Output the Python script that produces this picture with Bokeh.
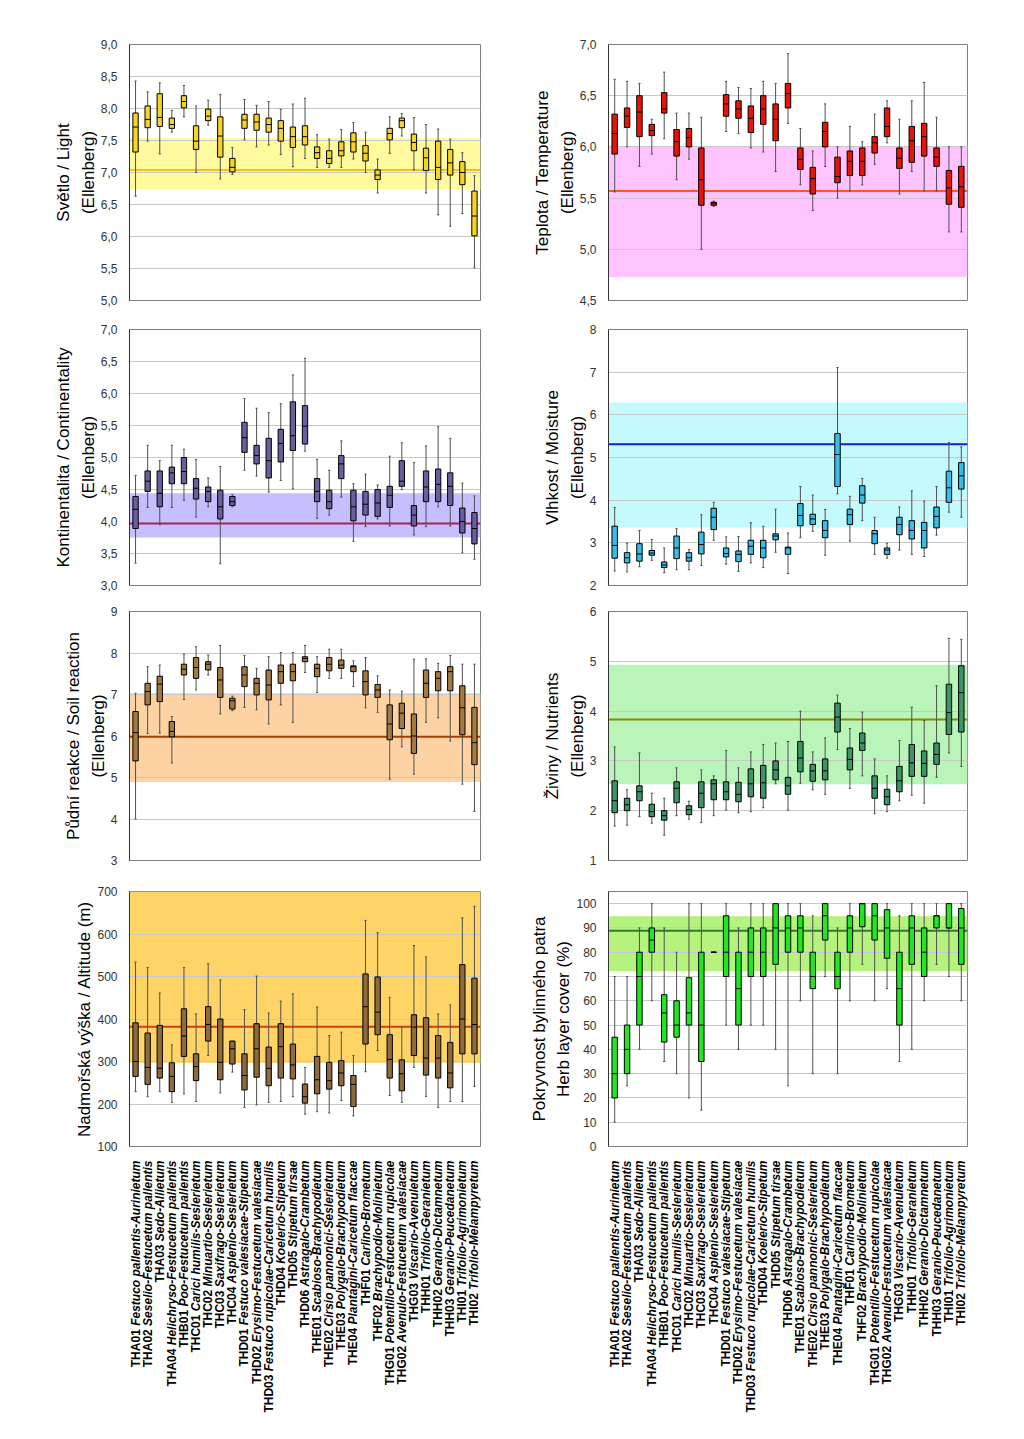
import numpy as np
from bokeh.plotting import figure
from bokeh.models import Range1d, FixedTicker, CustomJSTickFormatter, BoxAnnotation, Span
from bokeh.core.properties import value
from bokeh.layouts import gridplot
from bokeh.embed import file_html
from bokeh.resources import INLINE

codes = ["THA01", "THA02", "THA03", "THA04", "THB01", "THC01", "THC02", "THC03", "THC04",
         "THD01", "THD02", "THD03", "THD04", "THD05", "THD06", "THE01", "THE02", "THE03",
         "THE04", "THF01", "THF02", "THG01", "THG02", "THG03", "THH01", "THH02", "THH03",
         "THI01", "THI02"]
names = [
    "Festuco pallentis-Aurinietum",
    "Seselio-Festucetum pallentis",
    "Sedo-Allietum",
    "Helichryso-Festucetum pallentis",
    "Poo-Festucetum pallentis",
    "Carici humilis-Seslerietum",
    "Minuartio-Seslerietum",
    "Saxifrago-Seslerietum",
    "Asplenio-Seslerietum",
    "Festuco valesiacae-Stipetum",
    "Erysimo-Festucetum valesiacae",
    "Festuco rupicolae-Caricetum humilis",
    "Koelerio-Stipetum",
    "Stipetum tirsae",
    "Astragalo-Crambetum",
    "Scabioso-Brachypodietum",
    "Cirsio pannonici-Seslerietum",
    "Polygalo-Brachypodietum",
    "Plantagini-Caricetum flaccae",
    "Carlino-Brometum",
    "Brachypodio-Molinietum",
    "Potentillo-Festucetum rupicolae",
    "Avenulo-Festucetum valesiacae",
    "Viscario-Avenuletum",
    "Trifolio-Geranietum",
    "Geranio-Dictamnetum",
    "Geranio-Peucedanetum",
    "Trifolio-Agrimonietum",
    "Trifolio-Melampyretum",
]

# Light
light_hi = [8.43,8.26,8.40,7.97,8.36,8.04,8.13,8.22,7.39,8.14,8.05,8.11,7.99,8.07,8.16,7.59,7.52,7.67,7.78,7.63,7.21,7.87,7.92,7.86,7.75,7.68,7.52,7.31,6.95]
light_q3 = [7.93,8.04,8.23,7.85,8.20,7.73,7.99,7.87,7.22,7.91,7.91,7.85,7.81,7.71,7.73,7.40,7.34,7.48,7.62,7.42,7.04,7.69,7.85,7.60,7.38,7.49,7.36,7.17,6.71]
light_med = [7.71,7.83,7.86,7.75,8.11,7.49,7.88,7.57,7.08,7.82,7.79,7.75,7.69,7.56,7.56,7.31,7.22,7.34,7.48,7.30,6.96,7.61,7.81,7.47,7.23,7.08,7.15,7.00,6.32]
light_q1 = [7.32,7.70,7.72,7.69,8.01,7.36,7.81,7.24,7.01,7.69,7.66,7.63,7.49,7.39,7.43,7.22,7.14,7.26,7.32,7.18,6.89,7.51,7.70,7.34,7.03,6.89,6.96,6.81,6.01]
light_lo = [6.63,7.49,7.29,7.63,7.87,7.00,7.74,6.90,6.97,7.51,7.40,7.43,7.28,7.09,7.22,7.08,7.08,7.08,7.21,7.00,6.68,7.30,7.57,7.04,6.68,6.34,6.16,6.36,5.51]

# Temperature
temp_hi = [6.66,6.64,6.62,6.27,6.73,6.33,6.33,6.29,5.47,6.64,6.58,6.57,6.64,6.62,6.91,6.18,5.96,6.42,6.00,6.20,6.05,6.32,6.45,6.27,6.45,6.63,6.29,6.00,6.00]
temp_q3 = [6.32,6.38,6.50,6.22,6.53,6.17,6.18,5.99,5.46,6.51,6.45,6.40,6.50,6.42,6.62,5.99,5.80,6.24,5.90,5.96,5.99,6.10,6.38,5.99,6.20,6.23,5.99,5.77,5.81]
temp_med = [6.13,6.30,6.34,6.16,6.37,6.05,6.09,5.68,5.45,6.42,6.37,6.28,6.37,6.27,6.52,5.88,5.69,6.15,5.71,5.86,5.86,6.04,6.20,5.89,6.06,6.10,5.90,5.60,5.61]
temp_q1 = [5.93,6.19,6.10,6.11,6.33,5.91,6.00,5.43,5.43,6.30,6.28,6.14,6.22,6.06,6.38,5.78,5.54,6.00,5.65,5.72,5.72,5.94,6.10,5.79,5.85,5.91,5.81,5.44,5.41]
temp_lo = [5.56,6.00,5.81,5.93,6.08,5.68,5.88,5.00,5.42,6.15,6.13,5.99,5.95,5.76,6.23,5.63,5.38,5.81,5.50,5.57,5.63,5.83,6.04,5.54,5.76,5.57,5.57,5.17,5.17]

# Continentality
cont_hi = [4.72,5.19,4.95,5.19,5.13,4.97,4.68,4.86,4.42,5.92,5.77,5.70,5.84,6.29,6.55,4.97,4.80,5.26,4.59,4.74,4.57,5.02,5.23,4.92,5.18,5.48,5.30,4.60,4.40]
cont_q3 = [4.39,4.79,4.79,4.85,5.00,4.67,4.54,4.49,4.39,5.55,5.19,5.30,5.44,5.87,5.81,4.67,4.49,5.03,4.49,4.47,4.50,4.55,4.95,4.25,4.79,4.82,4.76,4.21,4.14]
cont_med = [4.19,4.63,4.44,4.76,4.78,4.52,4.47,4.23,4.31,5.31,5.03,4.95,5.22,5.34,5.49,4.47,4.31,4.90,4.23,4.27,4.29,4.41,4.63,4.10,4.54,4.58,4.55,4.00,3.89]
cont_q1 = [3.89,4.47,4.23,4.59,4.59,4.35,4.31,4.04,4.25,5.08,4.90,4.68,4.93,5.11,5.21,4.31,4.20,4.67,4.01,4.10,4.08,4.22,4.55,3.93,4.31,4.31,4.25,3.82,3.65]
cont_lo = [3.35,4.22,3.95,4.22,4.33,4.07,4.23,3.34,4.23,4.80,4.71,4.46,4.64,4.51,5.10,4.05,4.10,4.38,3.69,3.92,4.04,3.93,4.50,3.79,3.92,4.23,3.93,3.51,3.41]

# Moisture
moist_hi = [3.83,2.99,3.29,3.08,2.88,3.33,2.84,3.66,3.95,3.14,3.15,3.47,3.39,3.79,3.23,4.32,4.12,3.78,7.11,4.09,4.51,3.60,2.99,3.84,4.22,3.98,4.32,5.35,5.25]
moist_q3 = [3.39,2.77,2.98,2.82,2.55,3.16,2.77,3.25,3.81,2.88,2.81,3.06,3.06,3.21,2.90,3.92,3.67,3.52,5.56,3.79,4.34,3.29,2.88,3.60,3.52,3.48,3.84,4.68,4.88]
moist_med = [2.94,2.65,2.74,2.76,2.48,2.88,2.65,2.96,3.60,2.75,2.73,2.92,2.88,3.16,2.88,3.64,3.56,3.29,5.07,3.66,4.12,3.21,2.83,3.43,3.29,3.29,3.62,4.29,4.57]
moist_q1 = [2.64,2.53,2.57,2.71,2.42,2.63,2.57,2.74,3.31,2.67,2.56,2.73,2.65,3.07,2.73,3.40,3.43,3.12,4.32,3.43,3.93,2.98,2.73,3.19,3.09,2.88,3.35,3.95,4.26]
moist_lo = [2.34,2.32,2.44,2.59,2.30,2.37,2.37,2.47,3.06,2.50,2.33,2.53,2.42,2.78,2.28,3.12,3.27,2.71,4.15,3.04,3.52,2.73,2.64,2.83,2.73,2.68,3.18,3.72,3.60]

# Soil reaction
soil_hi = [7.03,7.67,7.71,6.47,7.97,8.15,7.95,8.18,6.96,7.94,7.63,7.91,8.01,8.01,8.18,7.91,8.09,8.09,7.81,7.89,7.45,7.11,7.08,7.85,7.86,7.75,7.94,7.73,7.73]
soil_q3 = [6.59,7.27,7.44,6.35,7.73,7.89,7.79,7.65,6.91,7.67,7.39,7.59,7.71,7.73,7.91,7.73,7.89,7.83,7.69,7.57,7.24,6.75,6.79,6.53,7.59,7.55,7.67,7.21,6.69]
soil_med = [6.08,7.07,7.25,6.11,7.61,7.65,7.73,7.35,6.85,7.47,7.27,7.23,7.55,7.55,7.87,7.63,7.73,7.71,7.67,7.31,7.11,6.29,6.55,6.00,7.27,7.39,7.55,6.68,5.84]
soil_q1 = [5.40,6.75,6.83,5.98,7.47,7.39,7.59,6.93,6.65,7.19,6.99,6.87,7.27,7.33,7.79,7.43,7.57,7.63,7.55,6.99,6.93,5.91,6.18,5.58,6.93,7.09,7.09,6.03,5.31]
soil_lo = [4.00,6.06,6.07,5.35,6.88,7.11,7.47,6.53,6.61,6.69,6.63,6.29,6.75,6.33,7.53,7.05,7.39,7.39,7.19,6.68,6.57,4.96,5.74,5.08,6.33,6.44,5.88,4.84,4.18]

# Nutrients
nutr_hi = [3.28,2.42,3.16,2.35,2.25,2.86,2.19,2.82,2.70,3.21,2.86,3.18,3.33,3.36,3.39,4.00,3.18,3.46,4.32,3.65,3.98,3.04,2.70,3.41,4.08,3.81,4.51,5.46,5.44]
nutr_q3 = [2.60,2.25,2.50,2.13,2.00,2.58,2.10,2.58,2.62,2.58,2.57,2.84,2.91,3.00,2.67,3.39,2.93,3.04,4.16,3.26,3.56,2.70,2.43,2.89,3.33,3.20,3.36,4.54,4.91]
nutr_med = [2.20,2.12,2.38,1.98,1.90,2.45,2.02,2.35,2.54,2.38,2.33,2.54,2.56,2.82,2.50,3.06,2.80,2.80,3.88,3.03,3.36,2.45,2.28,2.60,2.96,2.95,3.13,3.97,4.37]
nutr_q1 = [1.96,2.00,2.20,1.88,1.81,2.16,1.92,2.06,2.22,2.22,2.18,2.28,2.25,2.62,2.33,2.78,2.59,2.62,3.58,2.82,3.21,2.25,2.12,2.38,2.69,2.69,2.93,3.53,3.58]
nutr_lo = [1.69,1.71,1.88,1.75,1.51,1.90,1.83,1.76,1.90,2.01,1.96,1.98,2.06,2.54,2.01,2.55,2.42,2.33,3.23,2.45,2.70,1.94,1.98,2.20,2.31,2.15,2.67,3.16,2.89]

# Altitude
alt_hi = [534,521,461,339,521,412,530,492,348,422,501,414,442,459,286,428,361,369,314,632,603,451,381,573,546,412,433,638,665]
alt_q3 = [391,367,385,297,424,318,429,400,348,318,389,334,389,341,247,312,298,302,267,506,499,363,304,410,403,361,345,528,496]
alt_med = [300,286,284,265,360,288,387,298,330,267,330,284,335,292,217,257,255,273,246,429,416,305,271,381,308,308,273,400,387]
alt_q1 = [265,246,261,229,312,255,348,257,294,233,263,243,261,259,202,224,235,243,194,341,363,261,231,314,268,261,238,318,318]
alt_lo = [229,217,229,204,224,206,314,226,275,192,198,204,206,217,176,182,179,208,172,276,326,220,204,286,218,192,206,206,241]

# Herb layer cover
herb_hi = [70,70,90,100,90,80,100,100,80,100,90,100,100,100,100,100,95,100,90,100,100,100,100,95,100,100,100,100,100]
herb_q3 = [45,50,80,90,62.5,60,69.5,80,80,95,80,90,90,100,95,95,80,100,80,95,100,100,97.5,80,95,90,95,100,98]
herb_med = [30,40,70,85,55,50,55,50,80,80,65,80,80,90,90,90,70,95,70,90,100,95,90,65,90,80,95,90,90]
herb_q1 = [20,30,50,80,43,45,50,35,80,70,50,70,70,75,80,80,65,85,65,80,90.5,85,77.5,50,75,70,90,90,75]
herb_lo = [10,25,40,60,35,30,20,15,80,50,40,50,50,40,25,60,30,70,30,60,75,60,65,35,40,60,75,70,60]

FONT = "Liberation Sans"
LABEL_SIZE = 12
LABEL_STANDOFF = 6
LABEL_H = 276

# Arial/Liberation Sans Bold advance widths (1/1000 em), used to place the upright
# code part of each category label just below its italic name part.
_UP = dict(zip("ABCDEFGHIJKLMNOPQRSTUVWXYZ",
               [722,722,722,722,667,611,778,722,278,556,722,611,833,722,778,667,778,722,667,611,722,667,944,667,667,611]))
_LO = dict(zip("abcdefghijklmnopqrstuvwxyz",
               [556,611,556,611,556,333,611,611,278,278,556,278,889,611,611,611,611,389,556,333,611,556,778,556,556,500]))
WIDTHS = {**_UP, **_LO, " ": 278, "-": 333}
for d in "0123456789":
    WIDTHS[d] = 556


def text_width(s, size):
    return sum(WIDTHS.get(ch, 556) for ch in s) * size / 1000.0


COLS = [(500, 129, 20), (500, 108, 33)]
ROWS = [(315, 44, 15), (283, 14, 13), (278, 13, 16), (278, 15, 8)]
N = len(codes)
XS = np.arange(1, N + 1).astype(float)


def panel(col, row, ylabel, lo, q1, med, q3, hi, band, mean, box_c, band_c, line_c,
          yr, ticks, decimals):
    h, bt, bb = ROWS[row]
    w, bl, br = COLS[col]
    xs = XS
    p = figure(width=w, height=h, x_range=Range1d(0.5, N + 0.5), y_range=Range1d(*yr),
               output_backend="svg", toolbar_location=None, tools="",
               min_border_left=bl, min_border_right=br, min_border_top=bt,
               min_border_bottom=bb)
    p.background_fill_color = "white"
    p.border_fill_color = "white"
    p.outline_line_color = "#808080"
    p.outline_line_width = 1
    p.xgrid.grid_line_color = None
    p.ygrid.grid_line_color = "#C8C8C8"
    p.ygrid.ticker = FixedTicker(ticks=ticks)

    p.add_layout(BoxAnnotation(bottom=band[0], top=band[1], fill_color=band_c,
                               fill_alpha=1.0, line_color=None, level="image"))
    p.add_layout(Span(location=mean, dimension="width", line_color=line_c,
                      line_width=2, level="underlay"))

    p.segment(xs, lo, xs, hi, line_color="#505050", line_width=1)
    p.segment(xs - 0.09, hi, xs + 0.09, hi, line_color="#505050", line_width=1)
    p.segment(xs - 0.09, lo, xs + 0.09, lo, line_color="#505050", line_width=1)
    p.vbar(x=xs, bottom=q1, top=q3, width=0.44, fill_color=box_c,
           line_color="black", line_width=1)
    p.segment(xs - 0.22, med, xs + 0.22, med, line_color="black", line_width=1)

    ya = p.yaxis[0]
    ya.ticker = FixedTicker(ticks=ticks)
    if decimals:
        ya.formatter = CustomJSTickFormatter(code="return tick.toFixed(1).replace('.', ',');")
    else:
        ya.formatter = CustomJSTickFormatter(code="return tick.toFixed(0);")
    ya.major_tick_line_color = None
    ya.minor_tick_line_color = None
    ya.axis_line_color = "#333333"
    ya.major_label_text_font = FONT
    ya.major_label_text_font_size = "12px"
    ya.major_label_text_color = "#333333"
    ya.major_label_standoff = 6
    ya.axis_label = ylabel
    ya.axis_label_text_font = FONT
    ya.axis_label_text_font_size = "17px"
    ya.axis_label_text_font_style = "normal"
    ya.axis_label_text_color = "black"
    ya.axis_label_text_line_height = 1.3
    ya.axis_label_standoff = 0
    p.xaxis.visible = False
    return p


def label_strip(col, x_range):
    w, bl, br = COLS[col]
    q = figure(width=w, height=LABEL_H, x_range=x_range, y_range=Range1d(0, LABEL_H),
               output_backend="svg", toolbar_location=None, tools="",
               min_border_left=bl, min_border_right=br, min_border_top=0,
               min_border_bottom=0)
    q.axis.visible = False
    q.grid.visible = False
    q.outline_line_color = None
    q.background_fill_color = "white"
    q.border_fill_color = "white"
    top = LABEL_H - LABEL_STANDOFF
    name_y = [top] * N
    code_y = [top - text_width(" " + nm, LABEL_SIZE) for nm in names]
    q.text(x=XS, y=name_y, text=names, angle=np.pi / 2, text_align="right",
           text_baseline="middle", text_font=value(FONT), text_font_size=value(f"{LABEL_SIZE}px"),
           text_font_style="bold italic", text_color="black")
    q.text(x=XS, y=code_y, text=codes, angle=np.pi / 2, text_align="right",
           text_baseline="middle", text_font=value(FONT), text_font_size=value(f"{LABEL_SIZE}px"),
           text_font_style="bold", text_color="black")
    return q


p1 = panel(0, 0, "Světlo / Light\n(Ellenberg)", light_lo, light_q1, light_med, light_q3, light_hi,
           (6.74, 7.54), 7.04, "#F5D327", "#FFFA9E", "#E8C810", (5.0, 9.0),
           [5.0, 5.5, 6.0, 6.5, 7.0, 7.5, 8.0, 8.5, 9.0], True)
p2 = panel(1, 0, "Teplota / Temperature\n(Ellenberg)", temp_lo, temp_q1, temp_med, temp_q3, temp_hi,
           (4.73, 6.01), 5.57, "#E8140A", "#FFC4FF", "#FF5A1E", (4.5, 7.0),
           [4.5, 5.0, 5.5, 6.0, 6.5, 7.0], True)
p3 = panel(0, 1, "Kontinentalita / Continentality\n(Ellenberg)", cont_lo, cont_q1, cont_med, cont_q3, cont_hi,
           (3.75, 4.44), 3.97, "#6B5E9E", "#C6BFFF", "#A8244E", (3.0, 7.0),
           [3.0, 3.5, 4.0, 4.5, 5.0, 5.5, 6.0, 6.5, 7.0], True)
p4 = panel(1, 1, "Vlhkost / Moisture\n(Ellenberg)", moist_lo, moist_q1, moist_med, moist_q3, moist_hi,
           (3.36, 6.29), 5.31, "#38BCE8", "#C4FAFC", "#1A1AD0", (2, 8),
           [2, 3, 4, 5, 6, 7, 8], False)
p5 = panel(0, 2, "Půdní reakce / Soil reaction\n(Ellenberg)", soil_lo, soil_q1, soil_med, soil_q3, soil_hi,
           (4.89, 7.03), 5.98, "#A47A44", "#FDD3A4", "#A83C00", (3, 9),
           [3, 4, 5, 6, 7, 8, 9], False)
p6 = panel(1, 2, "Živiny / Nutrients\n(Ellenberg)", nutr_lo, nutr_q1, nutr_med, nutr_q3, nutr_hi,
           (2.53, 4.93), 3.83, "#3D9565", "#B9F5B9", "#8A8A00", (1, 6),
           [1, 2, 3, 4, 5, 6], False)
p7 = panel(0, 3, "Nadmořská výška / Altitude (m)", alt_lo, alt_q1, alt_med, alt_q3, alt_hi,
           (297, 700), 382, "#8E6A3C", "#FFD466", "#D0400A", (100, 700),
           [100, 200, 300, 400, 500, 600, 700], False)
p8 = panel(1, 3, "Pokryvnost bylinného patra\nHerb layer cover (%)", herb_lo, herb_q1, herb_med, herb_q3, herb_hi,
           (72.2, 94.8), 88.8, "#22E622", "#B6F27E", "#2E7D2E", (0, 105),
           [0, 10, 20, 30, 40, 50, 60, 70, 80, 90, 100], False)
l7 = label_strip(0, p7.x_range)
l8 = label_strip(1, p8.x_range)

grid = gridplot([[p1, p2], [p3, p4], [p5, p6], [p7, p8], [l7, l8]], toolbar_location=None)
open("out.html", "w").write(file_html(grid, INLINE))
